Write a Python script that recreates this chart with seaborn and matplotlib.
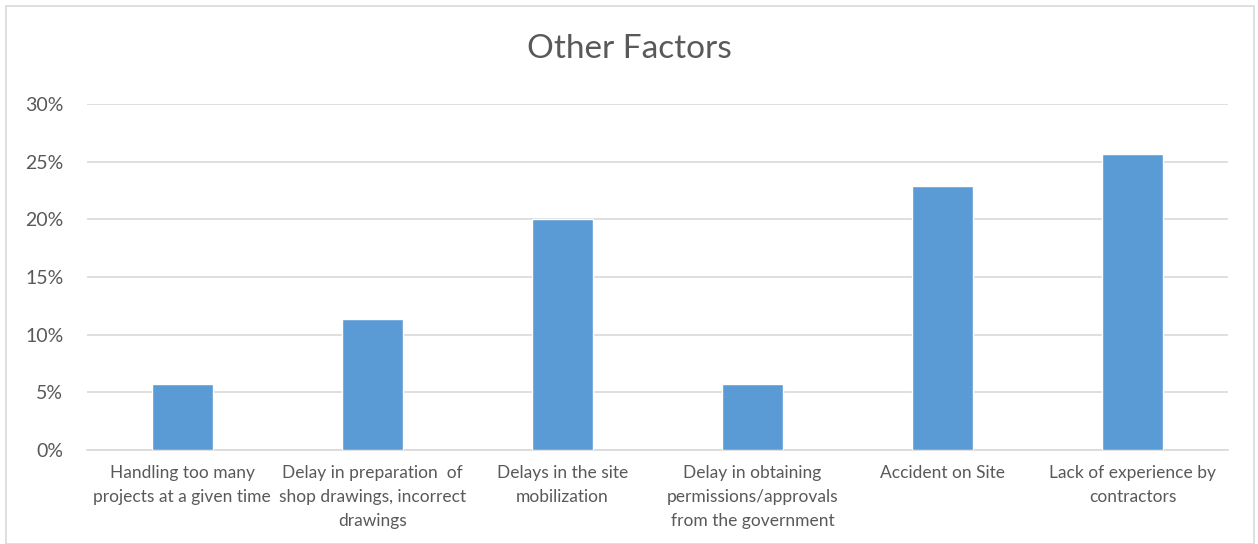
import seaborn as sns
import matplotlib.pyplot as plt
import pandas as pd
from matplotlib.ticker import PercentFormatter
from matplotlib.patches import Rectangle

# data
categories = [
    "Handling too many\nprojects at a given time",
    "Delay in preparation  of\nshop drawings, incorrect\ndrawings",
    "Delays in the site\nmobilization",
    "Delay in obtaining\npermissions/approvals\nfrom the government",
    "Accident on Site",
    "Lack of experience by\ncontractors",
]
shares = [5.7, 11.4, 20.0, 5.7, 22.9, 25.7]
y_ticks = [0, 5, 10, 15, 20, 25, 30]

df = pd.DataFrame({"factor": categories, "share": shares})

sns.set_style("white")
plt.rcParams['font.family'] = ['Lato', 'DejaVu Sans']

fig = plt.figure(figsize=(12.58, 5.44), dpi=100)
ax = fig.add_axes([87 / 1258, 1 - 450 / 544, (1228 - 87) / 1258, (450 - 104) / 544])

sns.barplot(data=df, x="factor", y="share", color="#5B9BD5", width=0.32,
            saturation=1, ax=ax, zorder=3)

ax.set_ylim(0, 30)
ax.set_xlim(-0.5, 5.5)
ax.set_yticks(y_ticks)
ax.yaxis.set_major_formatter(PercentFormatter(decimals=0))
ax.grid(axis="y", color="#D9D9D9", linewidth=1.2, zorder=0)
for s in ["top", "right", "left"]:
    ax.spines[s].set_visible(False)
ax.spines["bottom"].set_color("#D9D9D9")
ax.spines["bottom"].set_linewidth(1.2)
ax.set_xlabel("")
ax.set_ylabel("")
ax.tick_params(axis="y", labelsize=14, colors="#595959", length=0, pad=17)
ax.tick_params(axis="x", labelsize=12.5, colors="#595959", length=0, pad=11)
for t in ax.get_xticklabels():
    t.set_linespacing(1.6)

fig.text(0.5, 1 - 49 / 544, "Other Factors", ha="center", va="center",
         fontsize=24, color="#595959")

fig.patches.append(Rectangle((6 / 1258, 0), 1248 / 1258, 1 - 6 / 544,
                             transform=fig.transFigure, fill=False,
                             edgecolor="#D9D9D9", linewidth=1.2))

fig.savefig("out.png", dpi=100, facecolor="white")
